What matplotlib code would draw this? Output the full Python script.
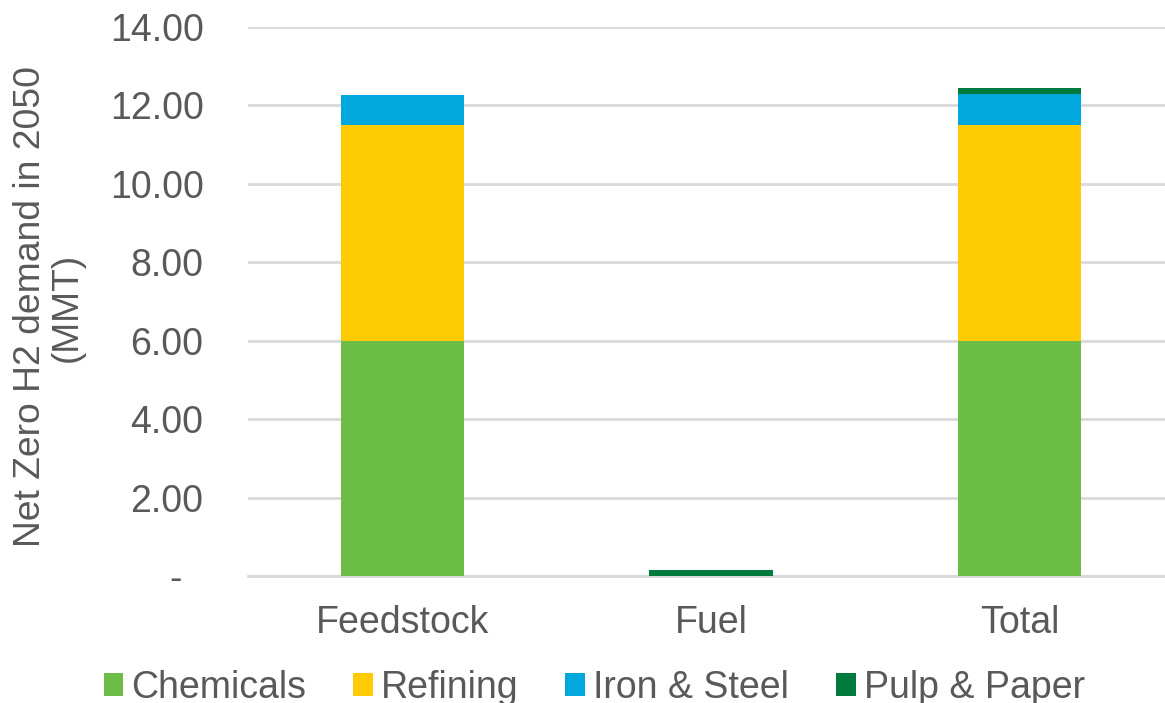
import matplotlib.pyplot as plt
import numpy as np

plt.rcParams['font.family'] = ['Liberation Sans', 'DejaVu Sans']

categories = ['Feedstock', 'Fuel', 'Total']
sectors = ['Chemicals', 'Refining', 'Iron & Steel', 'Pulp & Paper']
colors = ['#6cbd45', '#ffcb05', '#00a8de', '#007a3d']
values = {
    'Chemicals':    [6.00, 0.00, 6.00],
    'Refining':     [5.50, 0.00, 5.50],
    'Iron & Steel': [0.77, 0.00, 0.79],
    'Pulp & Paper': [0.00, 0.16, 0.16],
}
yticks = [0, 2, 4, 6, 8, 10, 12, 14]
fs = 27
grey = '#595959'

fig = plt.figure(figsize=(11.65, 7.03), dpi=100)
ax = fig.add_axes([248 / 1165, 1 - 576 / 703, (1165 - 248) / 1165, (576 - 27) / 703])

x = np.arange(len(categories))
bottom = np.zeros(len(categories))
for name, col in zip(sectors, colors):
    v = np.array(values[name])
    ax.bar(x, v, 0.4, bottom=bottom, color=col, label=name, zorder=3)
    bottom += v

ax.set_xlim(-0.5, 2.472)
ax.set_ylim(0, 14)
ax.set_yticks(yticks)
ax.set_yticklabels(['-  ' if t == 0 else f'{t:.2f}' for t in yticks])
ax.set_xticks(x)
ax.set_xticklabels(categories)
ax.tick_params(length=0, labelsize=fs, colors=grey)
ax.tick_params(axis='x', pad=21)
ax.tick_params(axis='y', pad=32)
ax.grid(axis='y', color='#d9d9d9', linewidth=2, zorder=0)
for s in ['top', 'right', 'left']:
    ax.spines[s].set_visible(False)
ax.spines['bottom'].set_color('#d9d9d9')
ax.spines['bottom'].set_linewidth(2)

ax.set_ylabel('Net Zero H2 demand in 2050\n(MMT)', fontsize=26.8, color=grey,
              linespacing=1.05)
ax.yaxis.set_label_coords(-0.178, 0.49)

fig.legend(loc='lower center', bbox_to_anchor=(0.51, -0.052), ncol=4, frameon=False,
           fontsize=fs, labelcolor=grey, handlelength=0.53, handleheight=0.6,
           handletextpad=0.21, columnspacing=1.25)

fig.savefig('out.png', dpi=100)
